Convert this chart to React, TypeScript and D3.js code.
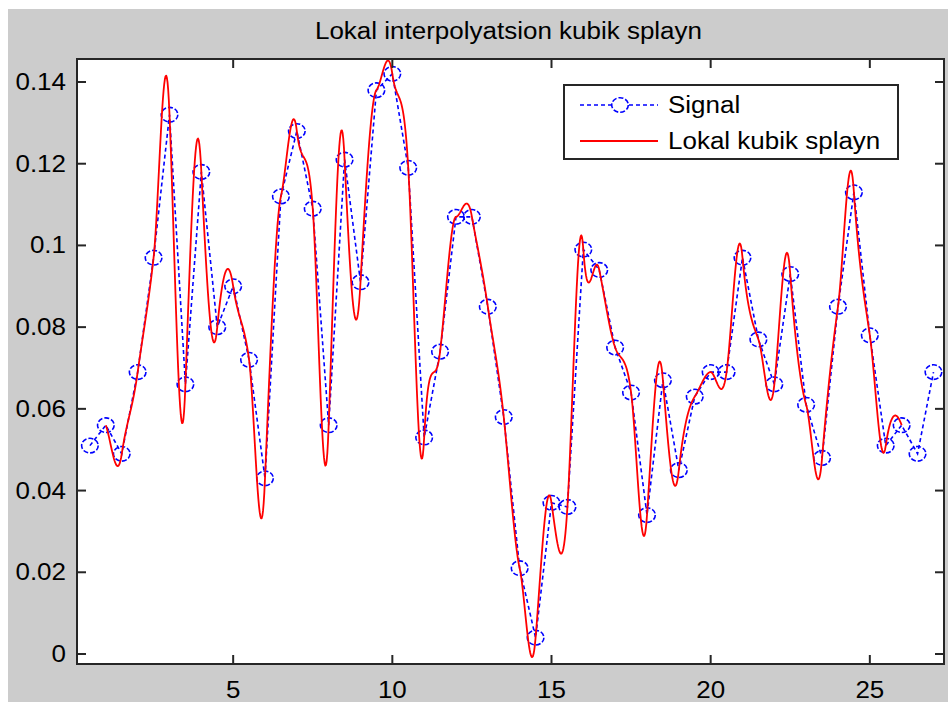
import React from "react";
import * as d3 from "d3";

// Sampled signal, one value every STEP units starting at STEP
const STEP = 0.5;
const signalY = [
  0.051, 0.056, 0.049, 0.069, 0.097, 0.132, 0.066, 0.118, 0.080, 0.090,
  0.072, 0.043, 0.112, 0.128, 0.109, 0.056, 0.121, 0.091, 0.138, 0.142,
  0.119, 0.053, 0.074, 0.107, 0.107, 0.085, 0.058, 0.021, 0.004, 0.037,
  0.036, 0.099, 0.094, 0.075, 0.064, 0.034, 0.067, 0.045, 0.063, 0.069,
  0.069, 0.097, 0.077, 0.066, 0.093, 0.061, 0.048, 0.085, 0.113, 0.078,
  0.051, 0.056, 0.049, 0.069,
];
const signalX = signalY.map((_, i) => (i + 1) * STEP);

const xTicks = [5, 10, 15, 20, 25];
const yTicks = [0, 0.02, 0.04, 0.06, 0.08, 0.1, 0.12, 0.14];
const yTickLabels = ["0", "0.02", "0.04", "0.06", "0.08", "0.1", "0.12", "0.14"];

const titleText = "Lokal interpolyatsion kubik splayn";
const legendLabels = ["Signal", "Lokal kubik splayn"];

// Figure geometry
const W = 948;
const H = 702;
const AX = { left: 77, right: 944, top: 59, bottom: 664 };
const FONT = "'Liberation Sans', Arial, Helvetica, sans-serif";
const FS = 23;
const SX = 1.13; // horizontal stretch of the text glyphs

const x = d3.scaleLinear().domain([0.094, 27.33]).range([AX.left, AX.right]);
const y = d3.scaleLinear().domain([-0.00245, 0.14563]).range([AX.bottom, AX.top]);

// Local cubic Hermite spline. Node slopes follow the forward difference;
// at a turning point of the signal part of the backward difference is
// subtracted as well, so the curve leads into the extremum.
const BACK_WEIGHT = 0.8;
function localSpline(xs: number[], ys: number[], first: number, last: number, samples = 24) {
  const h = xs[1] - xs[0];
  const slope = (i: number) => {
    const fwd = ys[i + 1] - ys[i];
    const bwd = ys[i] - ys[i - 1];
    return (fwd * bwd < 0 ? fwd - BACK_WEIGHT * bwd : fwd) / h;
  };
  const pts: [number, number][] = [];
  for (let i = first; i < last; i++) {
    const y0 = ys[i], y1 = ys[i + 1];
    const m0 = slope(i) * h, m1 = slope(i + 1) * h;
    for (let k = i === first ? 0 : 1; k <= samples; k++) {
      const t = k / samples;
      const t2 = t * t, t3 = t2 * t;
      const v =
        (2 * t3 - 3 * t2 + 1) * y0 +
        (t3 - 2 * t2 + t) * m0 +
        (-2 * t3 + 3 * t2) * y1 +
        (t3 - t2) * m1;
      pts.push([xs[i] + t * h, v]);
    }
  }
  return pts;
}

function SText({ x: tx, y: ty, anchor = "start", children }: any) {
  return (
    <text
      transform={`translate(${tx},${ty}) scale(${SX},1)`}
      textAnchor={anchor}
      fontFamily={FONT}
      fontSize={FS}
      fill="#000"
    >
      {children}
    </text>
  );
}

export default function App() {
  const signalPts = signalX.map((v, i) => [v, signalY[i]] as [number, number]);
  // spline spans the second sample through the third-from-last one
  const splinePts = localSpline(signalX, signalY, 1, signalY.length - 3);
  const line = d3
    .line<[number, number]>()
    .x((d) => x(d[0]))
    .y((d) => y(d[1]));

  const tickLen = 9;
  const legend = { x0: 564, x1: 898, y0: 85, y1: 159 };

  return (
    <svg
      width={W}
      height={H}
      style={{ position: "absolute", left: 0, top: 0, display: "block" }}
    >
      <rect x={0} y={0} width={W} height={H} fill="#fff" />
      <rect x={8} y={9} width={W - 8} height={H - 9} fill="#cccccc" />
      <rect
        x={AX.left}
        y={AX.top}
        width={AX.right - AX.left}
        height={AX.bottom - AX.top}
        fill="#fff"
      />

      <SText x={(AX.left + AX.right) / 2 - 2} y={39} anchor="middle">
        {titleText}
      </SText>

      <defs>
        <clipPath id="plotClip">
          <rect
            x={AX.left}
            y={AX.top - 12}
            width={AX.right - AX.left}
            height={AX.bottom - AX.top + 12}
          />
        </clipPath>
      </defs>

      <g clipPath="url(#plotClip)">
        <path
          d={line(signalPts) || ""}
          fill="none"
          stroke="#0000ff"
          strokeWidth={1.6}
          strokeDasharray="4,3"
        />
        {signalPts.map((d, i) => (
          <ellipse
            key={i}
            cx={x(d[0])}
            cy={y(d[1])}
            rx={8.3}
            ry={7.3}
            fill="none"
            stroke="#0000ff"
            strokeWidth={1.6}
            strokeDasharray="5,2"
          />
        ))}
        <path
          d={line(splinePts) || ""}
          fill="none"
          stroke="#ff0000"
          strokeWidth={1.8}
          strokeLinejoin="round"
        />
      </g>

      {/* axes box and ticks */}
      <rect
        x={AX.left}
        y={AX.top}
        width={AX.right - AX.left}
        height={AX.bottom - AX.top}
        fill="none"
        stroke="#262626"
        strokeWidth={2}
      />
      {xTicks.map((t) => (
        <g key={"x" + t}>
          <line x1={x(t)} x2={x(t)} y1={AX.bottom} y2={AX.bottom - tickLen} stroke="#262626" strokeWidth={2} />
          <line x1={x(t)} x2={x(t)} y1={AX.top} y2={AX.top + tickLen} stroke="#262626" strokeWidth={2} />
          <SText x={x(t)} y={698} anchor="middle">
            {String(t)}
          </SText>
        </g>
      ))}
      {yTicks.map((t, i) => (
        <g key={"y" + t}>
          <line x1={AX.left} x2={AX.left + tickLen} y1={y(t)} y2={y(t)} stroke="#262626" strokeWidth={2} />
          <line x1={AX.right} x2={AX.right - tickLen} y1={y(t)} y2={y(t)} stroke="#262626" strokeWidth={2} />
          <SText x={66} y={y(t) + 8} anchor="end">
            {yTickLabels[i]}
          </SText>
        </g>
      ))}

      {/* legend */}
      <rect
        x={legend.x0}
        y={legend.y0}
        width={legend.x1 - legend.x0}
        height={legend.y1 - legend.y0}
        fill="#fff"
        stroke="#262626"
        strokeWidth={2}
      />
      <line x1={580} x2={658} y1={105} y2={105} stroke="#0000ff" strokeWidth={1.6} strokeDasharray="4,3" />
      <ellipse cx={620} cy={105} rx={8.3} ry={7.3} fill="#fff" stroke="#0000ff" strokeWidth={1.6} strokeDasharray="5,2" />
      <SText x={668} y={113}>{legendLabels[0]}</SText>
      <line x1={580} x2={658} y1={141} y2={141} stroke="#ff0000" strokeWidth={1.8} />
      <SText x={668} y={149}>{legendLabels[1]}</SText>
    </svg>
  );
}
